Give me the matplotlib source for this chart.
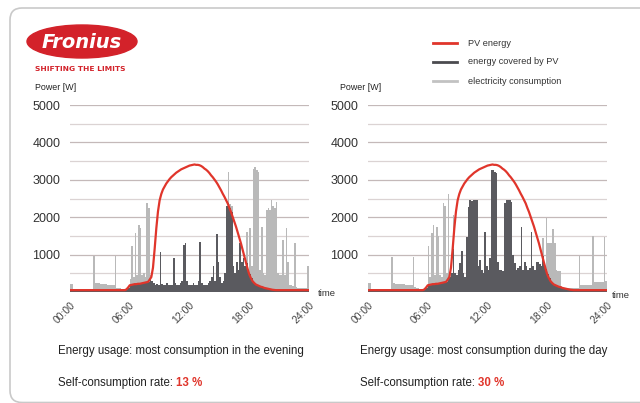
import numpy as np
import matplotlib.pyplot as plt
from matplotlib import font_manager
from matplotlib.patches import Ellipse, FancyBboxPatch

names = {f.name for f in font_manager.fontManager.ttflist}
narrow = 'Liberation Sans Narrow' if 'Liberation Sans Narrow' in names else 'Liberation Sans'
plt.rcParams['font.family'] = [narrow, 'DejaVu Sans']

# 10-minute samples, 00:00 .. 24:00
hours = np.arange(145) / 6.0

# PV production [W]
pv = [
    50, 50, 50, 50, 50, 50,
    50, 50, 50, 50, 50, 50,
    50, 50, 50, 50, 50, 50,
    50, 50, 50, 50, 50, 50,
    50, 50, 50, 50, 50, 50,
    50, 50, 50, 50, 70, 120,
    180, 190, 200, 210, 210, 220,
    220, 230, 240, 250, 260, 270,
    330, 400, 650, 1150, 1700, 2150,
    2450, 2620, 2740, 2820, 2900, 2960,
    3020, 3070, 3110, 3150, 3190, 3220,
    3250, 3280, 3300, 3320, 3340, 3360,
    3380, 3390, 3400, 3410, 3400, 3400,
    3390, 3370, 3340, 3300, 3270, 3230,
    3180, 3120, 3070, 3010, 2950, 2880,
    2800, 2720, 2630, 2550, 2460, 2370,
    2250, 2140, 2010, 1880, 1750, 1600,
    1450, 1300, 1130, 950, 780, 620,
    470, 370, 290, 240, 200, 180,
    160, 140, 130, 110, 100, 90,
    80, 70, 60, 55, 50, 50,
    50, 50, 50, 50, 50, 50,
    50, 50, 50, 50, 50, 50,
    50, 50, 50, 50, 50, 50,
    50,
]

# household consumption [W], evening-heavy day
cons_evening = [
    220, 220, 80, 80, 80, 80,
    80, 80, 80, 80, 80, 80,
    80, 80, 950, 250, 240, 230,
    220, 220, 210, 210, 200, 200,
    200, 200, 190, 950, 120, 110,
    100, 90, 90, 80, 80, 150,
    350, 1230, 400, 1580, 450, 1790,
    1710, 450, 500, 400, 2390, 2250,
    450, 300, 250, 200, 220, 200,
    1070, 220, 200, 180, 250, 200,
    180, 200, 900, 250, 200, 180,
    250, 300, 1250, 1320, 300, 200,
    180, 200, 250, 200, 180, 300,
    1330, 250, 200, 180, 200, 250,
    300, 400, 700, 300, 1550, 810,
    400, 250, 300, 500, 2300, 3220,
    2350, 2300, 700, 500, 800, 600,
    1300, 800, 900, 700, 1610, 600,
    1700, 700, 3300, 3350, 3250, 3200,
    600, 1750, 500, 450, 2200, 2250,
    2200, 2460, 2300, 2250, 2400, 500,
    450, 450, 1400, 450, 1710, 800,
    190, 180, 150, 1300, 130, 120,
    120, 120, 110, 110, 120, 700,
]

# household consumption [W], daytime-heavy day
cons_daytime = [
    230, 230, 80, 80, 80, 80,
    80, 80, 80, 80, 80, 80,
    80, 80, 940, 230, 220, 220,
    215, 210, 210, 210, 200, 200,
    200, 200, 200, 930, 130, 120,
    100, 90, 80, 80, 80, 150,
    1220, 400, 1570, 1790, 450, 1740,
    1500, 450, 400, 2370, 2300, 500,
    2620, 450, 500, 2060, 500, 450,
    600, 770, 1100, 500, 400, 1480,
    2280, 2460, 2440, 2460, 2460, 2460,
    700, 850, 600, 500, 1600, 700,
    600, 900, 3260, 3260, 3200, 3180,
    800, 600, 600, 550, 2380, 2460,
    2460, 2460, 2400, 1000, 770, 600,
    650, 700, 1750, 600, 800, 700,
    600, 650, 1610, 700, 600, 800,
    800, 750, 700, 1450, 700, 1970,
    1300, 1300, 1300, 1690, 1300, 590,
    560, 560, 150, 120, 100, 100,
    100, 100, 100, 100, 100, 100,
    100, 950, 190, 190, 190, 190,
    190, 190, 190, 1500, 280, 280,
    280, 280, 280, 280, 1480, 300,
]

time_labels = ['00:00', '06:00', '12:00', '18:00', '24:00']
usage_texts = ['Energy usage: most consumption in the evening',
               'Energy usage: most consumption during the day']
rates = ['13 %', '30 %']

RED = '#e0352b'
DARK = '#5a5a5f'
LIGHT = '#b9b9b9'

fig = plt.figure(figsize=(6.4, 4.03), dpi=100)

# pixel-space canvas for frame, logo, legend and captions
bg = fig.add_axes([0, 0, 1, 1], zorder=0)
bg.set_xlim(0, 640)
bg.set_ylim(403, 0)
bg.axis('off')

bg.add_patch(FancyBboxPatch((10, 8), 700, 394.5, boxstyle='round,pad=0,rounding_size=12',
                            fc='white', ec='#c9c9c9', lw=1.2))

# logo
bg.add_patch(Ellipse((82, 41.5), 110, 33, color='#d3222a'))
bg.text(82, 42, 'Fronius', color='white', fontsize=14, fontstyle='italic',
        fontweight='bold', family='DejaVu Sans', ha='center', va='center')
bg.text(35, 69, 'SHIFTING THE LIMITS', color='#d3222a', fontsize=5.4,
        fontweight='bold', family='DejaVu Sans', va='center')

# legend
legend_items = [('PV energy', RED), ('energy covered by PV', '#4b4b4f'),
                ('electricity consumption', '#c2c2c2')]
for i, (name, col) in enumerate(legend_items):
    y = 43 + i * 19
    bg.plot([433, 457], [y, y], color=col, lw=2)
    bg.text(468, y, name, fontsize=6.6, color='#333333', va='center')


def panel(x0, cons):
    ax = fig.add_axes([x0 / 640, (403 - 292) / 403, 239 / 640, 187 / 403], zorder=2)
    ax.patch.set_alpha(0)
    c = np.append(cons, cons[-1])
    p = np.array(pv)
    covered = np.minimum(c, p)
    for v in range(500, 5001, 500):
        ax.axhline(v, color='#c4b9b9' if v % 1000 == 0 else '#dbd3d3', lw=0.9, zorder=0)
    ax.fill_between(hours, c, step='post', color=LIGHT, lw=0, zorder=1)
    ax.fill_between(hours, covered, step='post', color=DARK, lw=0, zorder=2)
    ax.plot(hours, p, color=RED, lw=1.6, zorder=3)
    ax.set_xlim(0, 24)
    ax.set_ylim(0, 5000)
    ax.set_yticks(range(1000, 5001, 1000))
    ax.set_xticks(range(0, 25, 6))
    ax.set_xticklabels(time_labels, rotation=45, ha='right', va='top',
                       rotation_mode='anchor')
    ax.tick_params(axis='y', length=0, pad=7, labelsize=9, labelcolor='#333333')
    ax.tick_params(axis='x', length=0, pad=6, labelsize=7.5, labelcolor='#444444')
    for s in ax.spines.values():
        s.set_visible(False)
    return ax


panel(70, cons_evening)
panel(368, cons_daytime)

for x in (35, 340):
    bg.text(x, 87, 'Power [W]', fontsize=6.4, color='#222222', va='center')
bg.text(318, 293, 'time', fontsize=6.8, color='#333333', va='center')
bg.text(612, 295, 'time', fontsize=6.8, color='#333333', va='center')

rate_texts = []
for x, txt in zip((58, 360), usage_texts):
    bg.text(x, 354, txt, fontsize=8.3, color='#222222', va='baseline')
    rate_texts.append(bg.text(x, 386, 'Self-consumption rate:', fontsize=8.3,
                              color='#222222', va='baseline'))

fig.canvas.draw()
for t, r in zip(rate_texts, rates):
    bb = t.get_window_extent()
    bg.text(bb.x1 + 3, 386, r, fontsize=8.3, color=RED, fontweight='bold', va='baseline')

fig.savefig('out.png', dpi=100)
